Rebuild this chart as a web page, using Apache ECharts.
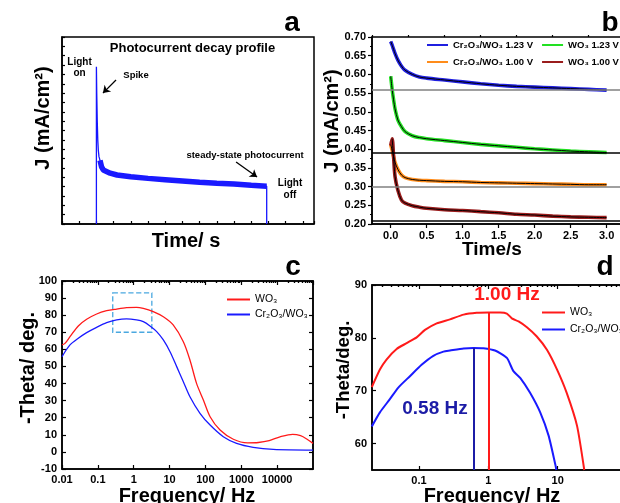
<!DOCTYPE html>
<html><head><meta charset="utf-8">
<script src="https://cdn.jsdelivr.net/npm/echarts@6/dist/echarts.min.js"></script>
<style>html,body{margin:0;padding:0;background:#fff}#c{width:620px;height:503px}</style>
</head><body><div id="c"></div>
<script>
const FONT = '"Liberation Sans", Arial, sans-serif';
const L = Math.log10;

// ---------- Panel a : photocurrent decay profile ----------
const aTime    = [2.0, 2.0, 2.02, 2.05, 2.08, 2.11, 2.15, 2.21, 2.3, 2.4, 2.8, 3.2, 4, 5, 6, 7, 8, 9, 10, 11, 11.9, 11.9];
const aCurrent = [0, 8.41, 7.0, 5.5, 4.5, 3.96, 3.6, 3.4, 3.05, 2.89, 2.72, 2.62, 2.53, 2.44, 2.37, 2.3, 2.23, 2.18, 2.14, 2.07, 2.02, 0];
const aBandFrom = 2.21;
const aArrowSpike  = [[3.14, 7.70], [2.38, 7.0]];
const aArrowSteady = [[10.12, 3.32], [11.34, 2.51]];

// ---------- Panel b : transients ----------
const bTime     = [0, 0.02, 0.04, 0.06, 0.1, 0.15, 0.2, 0.3, 0.4, 0.5, 0.75, 1.0, 1.25, 1.5, 1.75, 2.0, 2.25, 2.5, 2.75, 3.0];
const bCrWO123  = [0.688, 0.678, 0.667, 0.656, 0.638, 0.622, 0.611, 0.600, 0.593, 0.590, 0.585, 0.580, 0.575, 0.571, 0.568, 0.566, 0.564, 0.562, 0.560, 0.558];
const bWO123    = [0.595, 0.560, 0.532, 0.508, 0.478, 0.460, 0.447, 0.436, 0.431, 0.428, 0.423, 0.418, 0.413, 0.409, 0.405, 0.401, 0.398, 0.395, 0.393, 0.391];
const bCrWO100  = [0.412, 0.397, 0.380, 0.365, 0.346, 0.331, 0.324, 0.319, 0.317, 0.316, 0.314, 0.313, 0.311, 0.310, 0.309, 0.308, 0.307, 0.306, 0.305, 0.305];
const bWO100    = [0.410, 0.428, 0.380, 0.327, 0.290, 0.264, 0.256, 0.249, 0.245, 0.242, 0.238, 0.236, 0.233, 0.230, 0.226, 0.224, 0.221, 0.219, 0.218, 0.217];
const bSteady   = [0.558, 0.389, 0.303, 0.2125];
const bNames    = ['Cr₂O₃/WO₃ 1.23 V', 'WO₃ 1.23 V', 'Cr₂O₃/WO₃ 1.00 V', 'WO₃ 1.00 V'];
const bXMajor   = [0, 0.5, 1.0, 1.5, 2.0, 2.5, 3.0];
const bXMinor   = [-0.25, 0.25, 0.75, 1.25, 1.75, 2.25, 2.75];

// ---------- Panel c : Bode phase ----------
const cRedFreq   = [0.01, 0.0121, 0.0167, 0.0285, 0.0487, 0.0925, 0.176, 0.334, 0.63, 1.2, 1.85, 3.5, 6.7, 12.6, 24.2, 37, 56.5, 87.6, 135, 256, 600, 1500, 3000, 6000, 12000, 27000, 45000, 70000, 100000];
const cRedTheta  = [62.6, 63.5, 67.4, 73.7, 77.6, 80.7, 82.6, 83.6, 84.4, 84.6, 84.0, 82.1, 79.1, 74.3, 64.5, 53.8, 40.1, 30.4, 20.6, 12.8, 7.4, 5.3, 5.5, 6.6, 8.8, 10.3, 9.5, 7.3, 5.0];
const cBlueFreq  = [0.01, 0.0167, 0.0285, 0.0487, 0.0925, 0.176, 0.334, 0.63, 1.2, 1.85, 2.84, 4.37, 6.7, 10.3, 15.8, 24.2, 37, 70.5, 135, 315, 740, 2150, 7800, 100000];
const cBlueTheta = [55.7, 62.6, 66.5, 69.8, 72.9, 75.6, 77.2, 77.8, 77.2, 76.2, 73.7, 70.4, 65.5, 58.6, 49.9, 41.1, 32.3, 22.6, 15.7, 8.9, 5.0, 2.7, 1.5, 1.1];
const cXTickLabels = ['0.01', '0.1', '1', '10', '100', '1000', '10000'];
const cBoxFreq  = [0.26, 3.2];
const cBoxTheta = [70, 93];

// ---------- Panel d : zoom of c ----------
const dRedFreq   = [0.0209, 0.0273, 0.034, 0.0476, 0.0663, 0.0925, 0.122, 0.18, 0.28, 0.44, 0.68, 1.0, 1.48, 1.85, 2.18, 2.73, 3.6, 5.0, 7.0, 9.8, 13.5, 19, 24.2];
const dRedTheta  = [70.7, 74.0, 75.9, 77.9, 79.0, 80.1, 81.5, 82.75, 83.5, 84.4, 84.75, 84.8, 84.8, 84.6, 83.7, 83.1, 82.0, 80.25, 77.75, 74.0, 69.6, 63.4, 55.0];
const dBlueFreq  = [0.0209, 0.0273, 0.038, 0.0503, 0.074, 0.109, 0.161, 0.225, 0.28, 0.44, 0.61, 0.85, 1.25, 1.85, 2.3, 2.9, 4.0, 5.6, 7.4, 9.3, 9.6];
const dBlueTheta = [63.25, 65.9, 68.4, 70.6, 72.75, 74.9, 76.6, 77.4, 77.6, 78.0, 78.1, 78.05, 77.6, 76.2, 73.7, 72.4, 69.6, 65.9, 61.5, 55.9, 55.0];
const dPeakFreq  = [1.0, 0.61];
const dPeakTheta = [84.8, 78.1];
const dPeakLabels = ['1.00 Hz', '0.58 Hz'];
const dXTickLabels = ['0.1', '1', '10'];
const dYTicks = [60, 70, 80, 90];
const legendCD = ['WO₃', 'Cr₂O₃/WO₃'];

// ---------- helpers ----------
function merge(a, b) {
  const r = Object.assign({}, a);
  for (const k in b) {
    const v = b[k];
    if (v && typeof v === 'object' && !Array.isArray(v) && r[k] && typeof r[k] === 'object' && !Array.isArray(r[k])) r[k] = merge(r[k], v);
    else r[k] = v;
  }
  return r;
}
function ax(o) {
  return merge({
    type: 'value', splitLine: { show: false },
    axisLine: { show: true, onZero: false, lineStyle: { color: '#000', width: 1.5 } },
    axisTick: { show: true, inside: true, length: 4, lineStyle: { color: '#000', width: 1.2 } },
    axisLabel: { show: false, color: '#000', fontFamily: FONT, fontWeight: 'bold', fontSize: 11 }
  }, o);
}
function logTicks(lo, hi) {
  const out = [];
  for (let n = lo; n < hi; n++) for (let k = 2; k <= 9; k++) out.push(L(k * Math.pow(10, n)));
  return out;
}
const pairs = (xs, ys, f) => xs.map((x, i) => [f ? f(x) : x, ys[i]]);

const cMin = -2, cMax = 5;
const dMin = L(0.021), dMax = 2;
const cMinor = logTicks(-2, 5);
const dMinor = logTicks(-2, 2).filter(v => v > dMin);

const xAxis = [
  ax({ gridIndex: 0, min: 0, max: 14.65, interval: 1, axisTick: { length: 3 } }),                                   //0
  ax({ gridIndex: 1, min: -0.26, max: 3.2, axisTick: { inside: false, customValues: bXMajor, length: 4 },
       axisLabel: { show: true, customValues: bXMajor, formatter: v => v.toFixed(1), margin: 6 } }),                  //1
  ax({ gridIndex: 1, min: -0.26, max: 3.2, axisLine: { show: false }, axisTick: { inside: false, customValues: bXMinor, length: 2 } }), //2
  ax({ gridIndex: 2, min: cMin, max: cMax, interval: 1, axisTick: { length: 4 },
       axisLabel: { show: true, margin: 5, showMaxLabel: false, formatter: v => cXTickLabels[Math.round(v) - cMin] || '' } }), //3
  ax({ gridIndex: 2, min: cMin, max: cMax, axisLine: { show: false }, axisTick: { customValues: cMinor, length: 2 } }),       //4
  ax({ gridIndex: 2, position: 'top', min: cMin, max: cMax, interval: 1, axisTick: { length: 4 } }),                         //5
  ax({ gridIndex: 2, position: 'top', min: cMin, max: cMax, axisLine: { show: false }, axisTick: { customValues: cMinor, length: 2 } }), //6
  ax({ gridIndex: 3, min: dMin, max: dMax, axisTick: { customValues: [-1, 0, 1, 2], length: 4 },
       axisLabel: { show: true, margin: 5, customValues: [-1, 0, 1], formatter: v => dXTickLabels[Math.round(v) + 1] || '' } }), //7
  ax({ gridIndex: 3, min: dMin, max: dMax, axisLine: { show: false }, axisTick: { customValues: dMinor, length: 2 } }),        //8
  ax({ gridIndex: 3, position: 'top', min: dMin, max: dMax, axisTick: { customValues: [-1, 0, 1, 2], length: 4 } }),          //9
  ax({ gridIndex: 3, position: 'top', min: dMin, max: dMax, axisLine: { show: false }, axisTick: { customValues: dMinor, length: 2 } }) //10
];
const yAxis = [
  ax({ gridIndex: 0, min: 0, max: 10, interval: 0.5, axisTick: { length: 3 } }),                                    //0
  ax({ gridIndex: 1, min: 0.2, max: 0.7, interval: 0.05, axisTick: { inside: false, length: 4 },
       minorTick: { show: true, splitNumber: 2, length: 2, lineStyle: { color: '#000' } },
       axisLabel: { show: true, margin: 6, formatter: v => v.toFixed(2) } }),                                           //1
  ax({ gridIndex: 2, min: -10, max: 100, interval: 10, axisLabel: { show: true, margin: 5 } }),                     //2
  ax({ gridIndex: 2, position: 'right', min: -10, max: 100, interval: 10 }),                                       //3
  ax({ gridIndex: 3, min: 55, max: 90, axisTick: { customValues: dYTicks }, axisLabel: { show: true, margin: 5, customValues: dYTicks } }), //4
  ax({ gridIndex: 3, min: 55, max: 90, axisLine: { show: false }, axisTick: { customValues: [55, 65, 75, 85], length: 2 } })   //5
];

const gridBase = { show: true, borderColor: '#000', borderWidth: 1.5, containLabel: false, outerBoundsMode: 'none' };
const grid = [
  merge(gridBase, { left: 62, top: 37, width: 252, height: 187 }),
  merge(gridBase, { left: 372, top: 37, width: 249, height: 187 }),
  merge(gridBase, { left: 62, top: 281, width: 251, height: 188 }),
  merge(gridBase, { left: 372, top: 285, width: 255, height: 185 })
];

const bColors = ['#1f1fe0', '#22e022', '#ff8c1a', '#9a1c1c'];
const bData = [bCrWO123, bWO123, bCrWO100, bWO100];
const steadyColors = ['#808080', '#000', '#808080', '#000'];

const series = [];
// a
series.push({ type: 'line', xAxisIndex: 0, yAxisIndex: 0, data: pairs(aTime, aCurrent), showSymbol: false, symbol: 'none',
  lineStyle: { color: '#1515ff', width: 1.3 }, silent: true,
  markLine: { silent: true, symbol: ['none', 'arrow'], symbolSize: 7, label: { show: false },
    lineStyle: { color: '#000', width: 1.3, type: 'solid' },
    data: [ [{ coord: aArrowSpike[0] }, { coord: aArrowSpike[1] }], [{ coord: aArrowSteady[0] }, { coord: aArrowSteady[1] }] ] } });
series.push({ type: 'line', xAxisIndex: 0, yAxisIndex: 0, showSymbol: false, symbol: 'none', silent: true,
  data: pairs(aTime, aCurrent).filter(p => p[0] >= aBandFrom && p[1] > 0),
  lineStyle: { color: '#1a1aff', width: 5.5 } });
// b steady lines
series.push({ type: 'line', xAxisIndex: 1, yAxisIndex: 1, data: [], silent: true,
  markLine: { silent: true, symbol: 'none', label: { show: false },
    data: bSteady.map((v, i) => ({ yAxis: v, lineStyle: { color: steadyColors[i], width: 1.5, type: 'solid' } })) } });
bData.forEach((arr, i) => {
  series.push({ name: bNames[i], type: 'line', xAxisIndex: 1, yAxisIndex: 1, data: pairs(bTime, arr), showSymbol: false, symbol: 'none',
    smooth: 0.3, lineStyle: { color: bColors[i], width: 3.6 }, itemStyle: { color: bColors[i] }, z: 3 });
});
bData.forEach((arr, i) => {
  series.push({ name: 'fit' + i, type: 'line', xAxisIndex: 1, yAxisIndex: 1, data: pairs(bTime, arr).slice(i === 3 ? 1 : 0), showSymbol: false,
    symbol: 'none', smooth: 0.3, lineStyle: { color: '#000', width: 1 }, z: 4, silent: true });
});
// c
series.push({ name: legendCD[0], type: 'line', xAxisIndex: 3, yAxisIndex: 2, data: pairs(cRedFreq, cRedTheta, L), showSymbol: false, symbol: 'none',
  smooth: 0.3, lineStyle: { color: '#ff1a1a', width: 1.3 }, itemStyle: { color: '#ff1a1a' }, z: 4,
  markArea: { silent: true, itemStyle: { color: 'rgba(0,0,0,0)', borderColor: '#4aa8e0', borderWidth: 1.3, borderType: 'dashed' },
    data: [[{ coord: [L(cBoxFreq[0]), cBoxTheta[1]] }, { coord: [L(cBoxFreq[1]), cBoxTheta[0]] }]] } });
series.push({ name: legendCD[1], type: 'line', xAxisIndex: 3, yAxisIndex: 2, data: pairs(cBlueFreq, cBlueTheta, L), showSymbol: false, symbol: 'none',
  smooth: 0.3, lineStyle: { color: '#1a1aff', width: 1.3 }, itemStyle: { color: '#1a1aff' }, z: 4 });
// d
const dPeakColors = ['#ff1a1a', '#1c1ca6'];
series.push({ name: legendCD[0], type: 'line', xAxisIndex: 7, yAxisIndex: 4, data: pairs(dRedFreq, dRedTheta, L), showSymbol: false, symbol: 'none',
  smooth: 0.2, lineStyle: { color: '#ff1a1a', width: 2 }, itemStyle: { color: '#ff1a1a' }, z: 4 });
series.push({ name: legendCD[1], type: 'line', xAxisIndex: 7, yAxisIndex: 4, data: pairs(dBlueFreq, dBlueTheta, L), showSymbol: false, symbol: 'none',
  smooth: 0.2, lineStyle: { color: '#1a1aff', width: 2 }, itemStyle: { color: '#1a1aff' }, z: 4 });
series.push({ type: 'line', xAxisIndex: 7, yAxisIndex: 4, data: [], silent: true,
  markLine: { silent: true, symbol: 'none', label: { show: false },
    data: dPeakFreq.map((f, i) => [{ coord: [L(f), 55], lineStyle: { color: dPeakColors[i], width: 2, type: 'solid' } }, { coord: [L(f), dPeakTheta[i]] }]) } });

const legText = { fontFamily: FONT, fontSize: 9.5, fontWeight: 'bold', color: '#000' };
const legCommon = { icon: 'rect', itemHeight: 2, selectedMode: false, width: 500, padding: 0 };
const legend = [
  merge(legCommon, { data: [bNames[0], bNames[1]], left: 427, top: 40, itemWidth: 21, itemGap: 9, textStyle: legText }),
  merge(legCommon, { data: [bNames[2], bNames[3]], left: 427, top: 57, itemWidth: 21, itemGap: 9, textStyle: legText }),
  merge(legCommon, { data: legendCD, orient: 'vertical', left: 227, top: 294, itemWidth: 23, itemGap: 4,
    textStyle: { fontFamily: FONT, fontSize: 10.5, color: '#000' } }),
  merge(legCommon, { data: legendCD, orient: 'vertical', left: 542, top: 307, itemWidth: 23, itemGap: 6,
    textStyle: { fontFamily: FONT, fontSize: 10.5, color: '#000' } })
];

function txt(s, x, y, size, opt) {
  opt = opt || {};
  return { type: 'text', x: x, y: y, rotation: opt.rot || 0, z: 100, silent: true,
    style: { text: s, fill: opt.color || '#000', font: (opt.weight || 'bold') + ' ' + size + 'px ' + FONT,
      textAlign: 'center', textVerticalAlign: 'middle' } };
}
const R = Math.PI / 2;
const graphic = [
  txt('a', 292, 23, 28), txt('b', 610, 23, 28), txt('c', 293, 267, 28), txt('d', 605, 267, 28),
  txt('Photocurrent decay profile', 192.5, 48, 13),
  txt('Light', 79.5, 62, 10), txt('on', 79.5, 73, 10),
  txt('Spike', 136, 75, 9.5),
  txt('steady-state photocurrent', 245, 155, 9.5),
  txt('Light', 290, 183, 10), txt('off', 290, 195, 10),
  txt('Time/ s', 186, 241, 20),
  txt('J (mA/cm²)', 43, 118, 20, { rot: R }),
  txt('J (mA/cm²)', 332, 121, 20, { rot: R }),
  txt('Time/s', 492, 250, 19),
  txt('-Theta/ deg.', 28, 368, 20, { rot: R }),
  txt('Frequency/ Hz', 187, 496, 20),
  txt('-Theta/deg.', 344, 370, 18.5, { rot: R }),
  txt('Frequency/ Hz', 492, 496, 20),
  txt(dPeakLabels[0], 507, 295, 19, { color: '#ff1a1a' }),
  txt(dPeakLabels[1], 435, 409, 19, { color: '#1c1ca6' })
];

const chart = echarts.init(document.getElementById('c'), null, { renderer: 'canvas' });
chart.setOption({ animation: false, backgroundColor: '#fff', grid, xAxis, yAxis, series, legend, graphic });
</script></body></html>
